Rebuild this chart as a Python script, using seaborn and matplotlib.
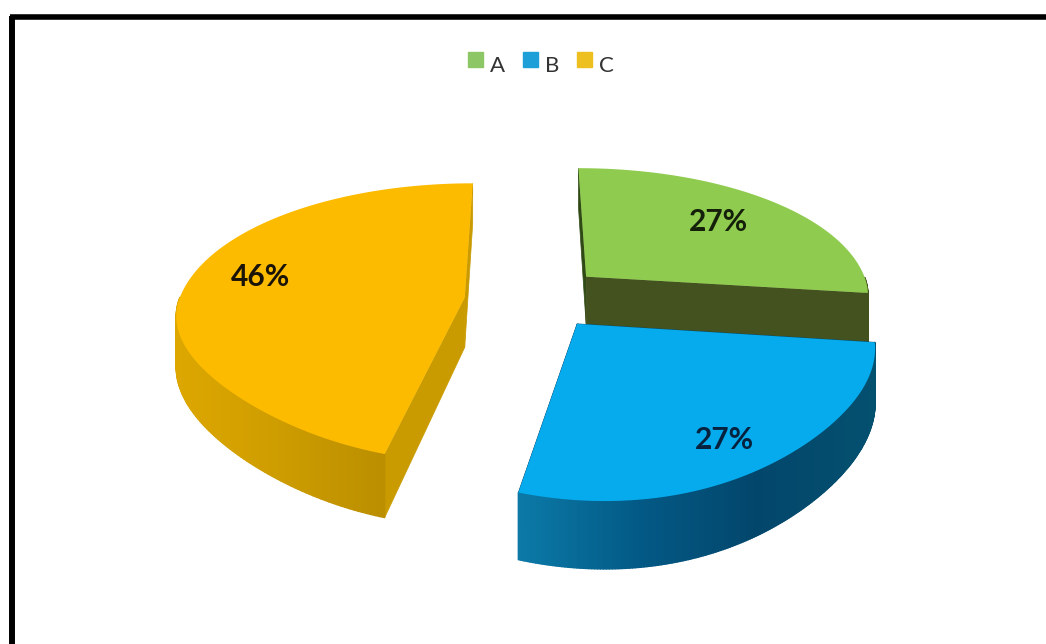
import numpy as np
import matplotlib
matplotlib.use('Agg')
import matplotlib.pyplot as plt
from matplotlib.collections import PolyCollection
from matplotlib.colors import LinearSegmentedColormap
from matplotlib.legend_handler import HandlerPatch
from matplotlib.patches import Patch, Rectangle
import seaborn as sns

categories = ['A', 'B', 'C']
values = [27, 27, 46]

sns.set_theme(style='white')
plt.rcParams['font.family'] = ['Lato', 'DejaVu Sans']

top_colors = sns.color_palette(['#8FCB4E', '#05ABEC', '#FDBB00'])
legend_colors = ['#8CC665', '#1E9FD8', '#EDC020']
rim_colors = [['#3E5A1E', '#43521E'],
              ['#0C7AA8', '#035A86', '#03466C', '#04506F'],
              ['#DDA700', '#CE9D00', '#BD9000', '#B58800']]
cut_colors = [('#2F4A14', '#43521E'), ('#04466C', '#04466C'), ('#C99B00', '#C99B00')]
# how far each slice is pulled out of the middle
offsets = [(0.216, 0.185), (0.173, -0.163), (-0.215, 0.025)]

# fake 3d view, pixels of the picture
CX, CY = 526, 301
RX, RY = 286, 136
PERSP_X, PERSP_Y = 0.15, 0.18
BEND = 14
DEPTH = 50
FLATTEN = 0.035


def project(x, y, top=True):
    wx = 1 / (1 + PERSP_X * y)
    wy = 1 / (1 + PERSP_Y * y)
    sx = CX + RX * x * wx + BEND * np.where(y < 0, y ** 2, 0)
    sy = CY - RY * y * wy
    if not top:
        sy = sy + DEPTH * wy ** 1.3
    return np.column_stack([sx, sy])


def draw_wedge(ax, start, end, off, top_color, rim, cuts):
    ang = np.radians(np.linspace(start, end, 200))
    ox, oy = off
    # the near arcs in the picture are a bit flatter than a true circle
    r = 1 - FLATTEN * np.where(np.sin(ang) < 0, np.sin(2 * ang) ** 2, 0)
    x = ox + r * np.cos(ang)
    y = oy + r * np.sin(ang)

    upper = project(x, y)
    lower = project(x, y, top=False)
    apex_up = project(np.array([ox]), np.array([oy]))
    apex_low = project(np.array([ox]), np.array([oy]), top=False)

    # cut faces, then the rim, then the top
    for i, idx in enumerate([0, -1]):
        face = np.vstack([apex_up, upper[[idx]], lower[[idx]], apex_low])
        ax.fill(face[:, 0], face[:, 1], color=cuts[i], lw=0.5)

    cmap = LinearSegmentedColormap.from_list('rim', rim)
    pos = (upper[:-1, 0] - upper[:, 0].min()) / np.ptp(upper[:, 0])
    front = np.flatnonzero(np.sin(ang[:-1]) < 0)
    quads = [np.vstack([upper[i], upper[i + 1], lower[i + 1], lower[i]]) for i in front]
    ax.add_collection(PolyCollection(quads, facecolors=cmap(pos[front]), edgecolors=cmap(pos[front]), linewidths=1.0))

    top = np.vstack([apex_up, upper])
    ax.fill(top[:, 0], top[:, 1], color=top_color, lw=0)


def square_handle(legend, orig_handle, xdescent, ydescent, width, height, fontsize):
    # squares sit a little higher than the letters
    return Rectangle((-xdescent, -ydescent + 3.5), width, width)


fig = plt.figure(figsize=(10.46, 6.44), dpi=100)
ax = fig.add_axes([0, 0, 1, 1])
ax.set_xlim(0, 1046)
ax.set_ylim(644, 0)
ax.axis('off')

# clockwise from twelve o'clock
fracs = np.array(values) / sum(values) * 360
edges = 90 - np.concatenate([[0], np.cumsum(fracs)])
for i in [2, 0, 1]:
    draw_wedge(ax, edges[i], edges[i + 1], offsets[i], top_colors[i], rim_colors[i], cut_colors[i])

ax.text(718, 222, f'{values[0]}%', fontsize=21.5, fontweight='bold', color='#14200A', ha='center', va='center')
ax.text(724, 440, f'{values[1]}%', fontsize=21.5, fontweight='bold', color='#06223F', ha='center', va='center')
ax.text(261, 277, f'{values[2]}%', fontsize=21.5, fontweight='bold', color='#1A1408', ha='center', va='center')

handles = [Patch(color=c, label=n) for c, n in zip(legend_colors, categories)]
ax.legend(handles=handles, loc='center', bbox_to_anchor=(541 / 1046, 1 - 66 / 644), ncol=3, frameon=False,
          fontsize=16, handlelength=0.68, handleheight=0.68, handletextpad=0.32, columnspacing=0.8,
          labelcolor='#333333', handler_map={Patch: HandlerPatch(patch_func=square_handle)})

# the black frame of the screenshot: left and top only
ax.plot([12, 12], [16, 644], color='black', lw=4.3, solid_capstyle='butt')
ax.plot([10, 1046], [16.5, 16.5], color='black', lw=4.0, solid_capstyle='butt')

plt.savefig('out.png', dpi=100)
plt.close()
